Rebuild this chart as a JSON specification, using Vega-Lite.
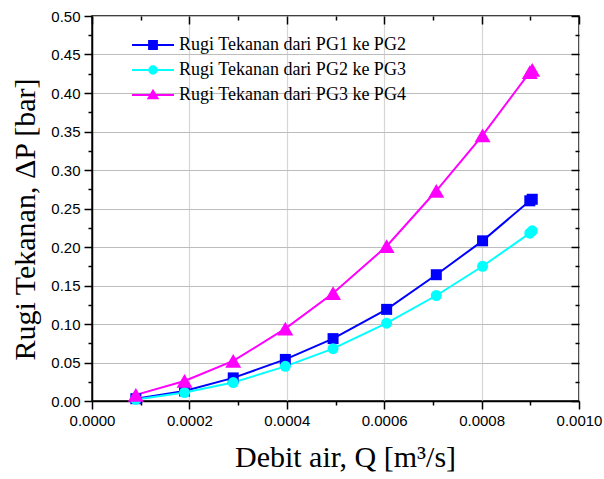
{
  "$schema": "https://vega.github.io/schema/vega-lite/v6.json",
  "autosize": "none",
  "width": 487,
  "height": 385,
  "padding": {"left": 92, "top": 16, "right": 25, "bottom": 78},
  "background": "white",
  "config": {
    "view": {"stroke": "black", "strokeWidth": 1.5},
    "axis": {
      "domainColor": "black", "domainWidth": 1.5,
      "tickColor": "black", "tickWidth": 1.5,
      "labelFont": "Liberation Sans", "labelFontSize": 15, "labelColor": "black",
      "titleFont": "Liberation Serif", "titleFontSize": 30, "titleFontWeight": "normal", "titleColor": "black",
      "labelOverlap": false, "labelFlush": false
    }
  },
  "data": {
    "values": [
      {"Q": 0.00009, "dP": 0.003, "series": "Rugi Tekanan dari PG1 ke PG2"},
      {"Q": 0.00019, "dP": 0.013, "series": "Rugi Tekanan dari PG1 ke PG2"},
      {"Q": 0.00029, "dP": 0.030, "series": "Rugi Tekanan dari PG1 ke PG2"},
      {"Q": 0.000397, "dP": 0.054, "series": "Rugi Tekanan dari PG1 ke PG2"},
      {"Q": 0.000495, "dP": 0.081, "series": "Rugi Tekanan dari PG1 ke PG2"},
      {"Q": 0.000605, "dP": 0.119, "series": "Rugi Tekanan dari PG1 ke PG2"},
      {"Q": 0.000707, "dP": 0.164, "series": "Rugi Tekanan dari PG1 ke PG2"},
      {"Q": 0.000802, "dP": 0.208, "series": "Rugi Tekanan dari PG1 ke PG2"},
      {"Q": 0.000899, "dP": 0.260, "series": "Rugi Tekanan dari PG1 ke PG2"},
      {"Q": 0.000904, "dP": 0.262, "series": "Rugi Tekanan dari PG1 ke PG2"},
      {"Q": 0.00009, "dP": 0.002, "series": "Rugi Tekanan dari PG2 ke PG3"},
      {"Q": 0.00019, "dP": 0.011, "series": "Rugi Tekanan dari PG2 ke PG3"},
      {"Q": 0.00029, "dP": 0.024, "series": "Rugi Tekanan dari PG2 ke PG3"},
      {"Q": 0.000397, "dP": 0.045, "series": "Rugi Tekanan dari PG2 ke PG3"},
      {"Q": 0.000495, "dP": 0.068, "series": "Rugi Tekanan dari PG2 ke PG3"},
      {"Q": 0.000605, "dP": 0.101, "series": "Rugi Tekanan dari PG2 ke PG3"},
      {"Q": 0.000707, "dP": 0.137, "series": "Rugi Tekanan dari PG2 ke PG3"},
      {"Q": 0.000802, "dP": 0.175, "series": "Rugi Tekanan dari PG2 ke PG3"},
      {"Q": 0.000899, "dP": 0.218, "series": "Rugi Tekanan dari PG2 ke PG3"},
      {"Q": 0.000904, "dP": 0.221, "series": "Rugi Tekanan dari PG2 ke PG3"},
      {"Q": 0.00009, "dP": 0.008, "series": "Rugi Tekanan dari PG3 ke PG4"},
      {"Q": 0.00019, "dP": 0.026, "series": "Rugi Tekanan dari PG3 ke PG4"},
      {"Q": 0.00029, "dP": 0.052, "series": "Rugi Tekanan dari PG3 ke PG4"},
      {"Q": 0.000397, "dP": 0.094, "series": "Rugi Tekanan dari PG3 ke PG4"},
      {"Q": 0.000495, "dP": 0.140, "series": "Rugi Tekanan dari PG3 ke PG4"},
      {"Q": 0.000605, "dP": 0.201, "series": "Rugi Tekanan dari PG3 ke PG4"},
      {"Q": 0.000707, "dP": 0.273, "series": "Rugi Tekanan dari PG3 ke PG4"},
      {"Q": 0.000802, "dP": 0.345, "series": "Rugi Tekanan dari PG3 ke PG4"},
      {"Q": 0.000899, "dP": 0.427, "series": "Rugi Tekanan dari PG3 ke PG4"},
      {"Q": 0.000904, "dP": 0.430, "series": "Rugi Tekanan dari PG3 ke PG4"}
    ]
  },
  "resolve": {"axis": {"x": "independent", "y": "independent"}},
  "layer": [
    {
      "mark": {"type": "line", "strokeWidth": 2},
      "encoding": {
        "x": {"field": "Q", "type": "quantitative",
          "scale": {"domain": [0, 0.001], "nice": false, "zero": false},
          "axis": {"orient": "top", "labels": false, "title": null, "grid": false, "domain": false,
            "values": [0, 0.0001, 0.0002, 0.0003, 0.0004, 0.0005, 0.0006, 0.0007, 0.0008, 0.0009, 0.001],
            "tickSize": {"condition": {"test": "abs(datum.value*5000 - round(datum.value*5000)) > 0.01", "value": -4}, "value": -8}}},
        "y": {"field": "dP", "type": "quantitative",
          "scale": {"domain": [0, 0.5], "nice": false, "zero": false},
          "axis": {"orient": "right", "labels": false, "title": null, "grid": false, "domain": false,
            "values": [0, 0.025, 0.05, 0.075, 0.1, 0.125, 0.15, 0.175, 0.2, 0.225, 0.25, 0.275, 0.3, 0.325, 0.35, 0.375, 0.4, 0.425, 0.45, 0.475, 0.5],
            "tickSize": {"condition": {"test": "abs(datum.value*20 - round(datum.value*20)) > 0.01", "value": -4}, "value": -8}}},
        "color": {"field": "series", "type": "nominal",
          "scale": {"domain": ["Rugi Tekanan dari PG1 ke PG2", "Rugi Tekanan dari PG2 ke PG3", "Rugi Tekanan dari PG3 ke PG4"], "range": ["#0000ff", "#00ffff", "#ff00ff"]},
          "legend": {
            "orient": "none", "legendX": 52, "legendY": 20, "title": null, "padding": 0,
            "labelFont": "Liberation Serif", "labelFontSize": 18, "labelColor": "black", "labelLimit": 400,
            "symbolSize": 36, "labelOffset": 17, "rowPadding": 7,
            "encode": {"symbols": {"update": {
              "shape": {"signal": "datum.value === 'Rugi Tekanan dari PG1 ke PG2' ? 'M-7,0H7M-1.3,-1.3H1.3V1.3H-1.3Z' : datum.value === 'Rugi Tekanan dari PG2 ke PG3' ? 'M-7,0H7M-1.25,0A1.25,1.25 0 1,0 1.25,0A1.25,1.25 0 1,0 -1.25,0Z' : 'M-7,0H7M0,-1.4L1.5,1.1H-1.5Z'"},
              "size": {"value": 36},
              "fill": {"signal": "scale('color', datum.value)"},
              "stroke": {"signal": "scale('color', datum.value)"},
              "strokeWidth": {"value": 2},
              "opacity": {"value": 1}
            }}}
          }},
        "order": {"field": "Q", "type": "quantitative"}
      }
    },
    {
      "transform": [{"filter": "datum.series === 'Rugi Tekanan dari PG1 ke PG2'"}],
      "mark": {"type": "point", "filled": true, "opacity": 1, "size": 121, "strokeWidth": 1, "shape": "M-1,-1H1V1H-1Z"},
      "encoding": {
        "x": {"field": "Q", "type": "quantitative",
          "axis": {"orient": "bottom", "title": "Debit air, Q [m³/s]", "titleX": 253, "format": ".4f", "grid": true,
            "values": [0, 0.0001, 0.0002, 0.0003, 0.0004, 0.0005, 0.0006, 0.0007, 0.0008, 0.0009, 0.001],
            "tickSize": {"condition": {"test": "abs(datum.value*5000 - round(datum.value*5000)) > 0.01", "value": 4}, "value": 8},
            "labelOpacity": {"condition": {"test": "abs(datum.value*5000 - round(datum.value*5000)) > 0.01", "value": 0}, "value": 1},
            "gridOpacity": {"condition": {"test": "abs(datum.value*5000 - round(datum.value*5000)) > 0.01", "value": 0}, "value": 1},
            "gridColor": "#d6d6d6", "gridWidth": 1.2,
            "labelPadding": 4, "titlePadding": 14}},
        "y": {"field": "dP", "type": "quantitative",
          "axis": {"orient": "left", "title": "Rugi Tekanan, ΔP [bar]", "titleY": 203, "format": ".2f", "grid": true,
            "values": [0, 0.025, 0.05, 0.075, 0.1, 0.125, 0.15, 0.175, 0.2, 0.225, 0.25, 0.275, 0.3, 0.325, 0.35, 0.375, 0.4, 0.425, 0.45, 0.475, 0.5],
            "tickSize": {"condition": {"test": "abs(datum.value*20 - round(datum.value*20)) > 0.01", "value": 4}, "value": 8},
            "labelOpacity": {"condition": {"test": "abs(datum.value*20 - round(datum.value*20)) > 0.01", "value": 0}, "value": 1},
            "gridOpacity": {"condition": {"test": "abs(datum.value*20 - round(datum.value*20)) > 0.01", "value": 0}, "value": 1},
            "gridColor": "#bdbdbd", "gridWidth": 1.2,
            "labelPadding": 4, "titlePadding": 10}},
        "color": {"field": "series", "type": "nominal"}
      }
    },
    {
      "transform": [{"filter": "datum.series === 'Rugi Tekanan dari PG2 ke PG3'"}],
      "mark": {"type": "point", "filled": true, "opacity": 1, "size": 121, "strokeWidth": 1, "shape": "circle"},
      "encoding": {
        "x": {"field": "Q", "type": "quantitative", "axis": null},
        "y": {"field": "dP", "type": "quantitative", "axis": null},
        "color": {"field": "series", "type": "nominal"}
      }
    },
    {
      "transform": [{"filter": "datum.series === 'Rugi Tekanan dari PG3 ke PG4'"}],
      "mark": {"type": "point", "filled": true, "opacity": 1, "size": 121, "strokeWidth": 1, "shape": "M0,-1.25L1.45,1.25H-1.45Z"},
      "encoding": {
        "x": {"field": "Q", "type": "quantitative", "axis": null},
        "y": {"field": "dP", "type": "quantitative", "axis": null},
        "color": {"field": "series", "type": "nominal"}
      }
    }
  ]
}
